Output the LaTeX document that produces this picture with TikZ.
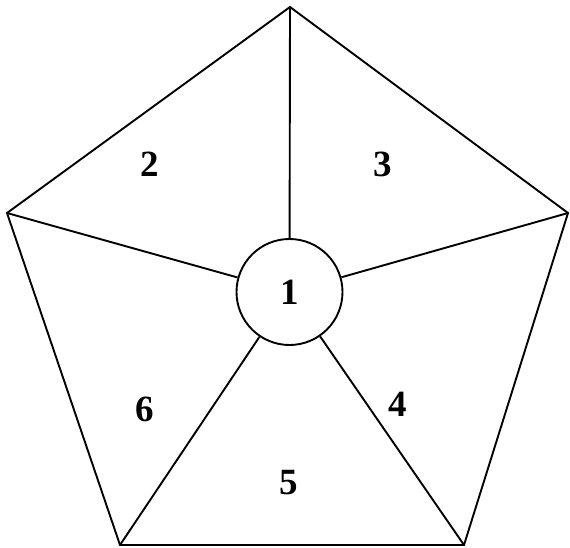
\documentclass[tikz,border=0pt]{standalone}
\usepackage{fontspec}
\setmainfont{Liberation Serif}
\begin{document}
\begin{tikzpicture}[x=1pt,y=-1pt,
  edge/.style={line width=1.9pt,line join=miter},
  lbl/.style={font=\fontsize{37}{42}\selectfont\bfseries,inner sep=0pt}]
\useasboundingbox (0,0) rectangle (570,548);
\coordinate (t) at (290,7);
\coordinate (r) at (568,213);
\coordinate (br) at (464,545);
\coordinate (bl) at (120,545);
\coordinate (l) at (7,213);
\node[circle,draw,line width=1.9pt,minimum size=106pt,inner sep=0pt,lbl] (c) at (289.5,292) {1};
\draw[edge] (t) -- (r) -- (br) -- (bl) -- (l) -- cycle;
\foreach \v in {t,r,br,bl,l} \draw[edge] (c) -- (\v);
\node[lbl] (n2) at (150,164) {2};
\node[lbl] (n3) at (383,164) {3};
\node[lbl] (n6) at (145,409) {6};
\node[lbl] (n4) at (398,404) {4};
\node[lbl] (n5) at (289,483) {5};
\end{tikzpicture}
\end{document}
